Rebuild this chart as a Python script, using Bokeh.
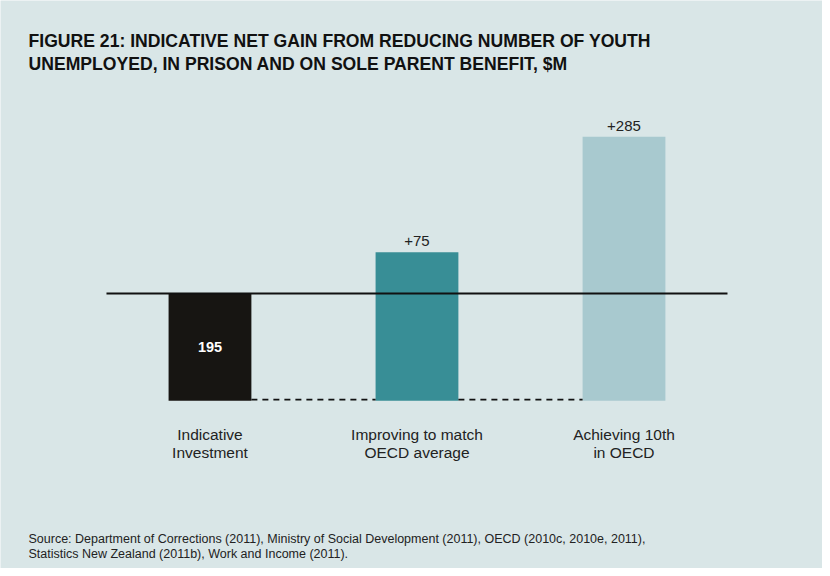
from bokeh.plotting import figure
from bokeh.models import Label, Range1d, ColumnDataSource
from bokeh.core.properties import value
from bokeh.embed import file_html
from bokeh.resources import INLINE

# ---- data ----
categories = ["Indicative\nInvestment", "Improving to match\nOECD average", "Achieving 10th\nin OECD"]
investment = 195
net_gain = [75, 285]
bar_colors = ["#171512", "#388e96", "#a8c9cf"]
title_lines = ["FIGURE 21: INDICATIVE NET GAIN FROM REDUCING NUMBER OF YOUTH",
               "UNEMPLOYED, IN PRISON AND ON SOLE PARENT BENEFIT, $M"]
source_lines = ["Source: Department of Corrections (2011),  Ministry of Social Development (2011),  OECD (2010c, 2010e, 2011),",
                "Statistics New Zealand (2011b), Work and Income (2011)."]

BG = "#d9e6e7"
FONT = "Liberation Sans"
W, H = 822, 568

xs = list(range(len(categories)))
bottoms = [-investment, -investment, -investment]
tops = [0] + net_gain

p = figure(width=W, height=H, output_backend="svg", toolbar_location=None,
           x_range=Range1d(-1.012, 2.959), y_range=Range1d(-500, 532.7),
           min_border=0, min_border_left=0, min_border_right=0,
           min_border_top=0, min_border_bottom=0)
p.axis.visible = False
p.grid.visible = False
p.outline_line_color = None
p.background_fill_color = BG
p.border_fill_color = BG

src = ColumnDataSource(dict(x=xs, bottom=bottoms, top=tops, color=bar_colors))
p.vbar(x="x", width=0.4, bottom="bottom", top="top", fill_color="color",
       line_color=None, source=src)

# zero line
p.line(x=[-0.5, 2.5], y=[0, 0], line_color="#111111", line_width=2)

# dashed connectors at investment level
for i in range(len(categories) - 1):
    p.line(x=[xs[i] + 0.2, xs[i + 1] - 0.2], y=[-investment + 2, -investment + 2],
           line_color="#111111", line_width=1.6, line_dash="6 5")

# value labels above positive bars
vsrc = ColumnDataSource(dict(x=xs[1:], y=net_gain, t=["+%d" % v for v in net_gain]))
p.text(x="x", y="y", text="t", source=vsrc, text_align="center", text_baseline="bottom",
       y_offset=-6, text_font=value(FONT), text_font_size="15px", text_color="#222222")

# investment label inside black bar
p.text(x=[xs[0]], y=[-investment / 2], text=[str(investment)], text_align="center",
       text_baseline="middle", text_font=value(FONT), text_font_size="14.5px",
       text_font_style="bold", text_color="#ffffff")

# category labels
for i, cat in enumerate(categories):
    for j, line in enumerate(cat.split("\n")):
        p.add_layout(Label(x=xs[i], y=134 - 18 * j, x_units="data", y_units="screen",
                           text=line, text_align="center", text_baseline="middle",
                           text_font=FONT, text_font_size="15.5px", text_color="#222222"))

# title
for j, line in enumerate(title_lines):
    p.add_layout(Label(x=28, y=528 - 23 * j, x_units="screen", y_units="screen",
                       text=line, text_align="left", text_baseline="middle",
                       text_font=FONT, text_font_size="17.6px", text_font_style="bold",
                       text_color="#111111"))

# source
for j, line in enumerate(source_lines):
    p.add_layout(Label(x=28, y=30 - 15 * j, x_units="screen", y_units="screen",
                       text=line, text_align="left", text_baseline="middle",
                       text_font=FONT, text_font_size="12.5px", text_color="#222222"))

open("out.html", "w").write(file_html(p, INLINE))
